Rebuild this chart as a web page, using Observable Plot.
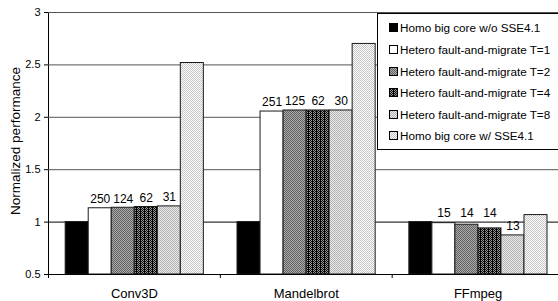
<!DOCTYPE html>
<html>
<head>
<meta charset="utf-8">
<script src="https://cdn.jsdelivr.net/npm/d3@7"></script>
<script src="https://cdn.jsdelivr.net/npm/@observablehq/plot@0.6"></script>
<style>
  html, body { margin: 0; padding: 0; background: #fff; overflow: hidden; }
  #wrap { position: relative; width: 558px; height: 301px; overflow: hidden; font-family: "Liberation Sans", Arial, Helvetica, sans-serif; }
  #legend { position: absolute; left: 377px; top: 13px; width: 190px; height: 137px; box-sizing: border-box;
            border: 1px solid #000; background: #fff; padding-top: 3.2px; font-size: 11.7px; color: #000; }
  .item { height: 21.6px; display: flex; align-items: center; padding-left: 11px; white-space: nowrap; }
  .item svg { margin-right: 2px; flex: none; }
</style>
</head>
<body>
<svg width="0" height="0" style="position:absolute">
  <defs>
    <pattern id="p2" patternUnits="userSpaceOnUse" width="2" height="2">
      <rect width="2" height="2" fill="#acacac"/>
      <rect x="0" y="0" width="1" height="1" fill="#606060"/>
      <rect x="1" y="1" width="1" height="1" fill="#606060"/>
    </pattern>
    <pattern id="p4" patternUnits="userSpaceOnUse" width="4" height="2">
      <rect width="4" height="2" fill="#9a9a9a"/>
      <rect x="0" y="0" width="1" height="2" fill="#000"/>
      <rect x="2" y="0" width="1" height="1" fill="#000"/>
      <rect x="1" y="1" width="1" height="1" fill="#111"/>
      <rect x="3" y="1" width="1" height="1" fill="#111"/>
    </pattern>
    <pattern id="p8" patternUnits="userSpaceOnUse" width="2" height="2">
      <rect width="2" height="2" fill="#e8e8e8"/>
      <rect x="0" y="0" width="1" height="1" fill="#b4b4b4"/>
      <rect x="1" y="1" width="1" height="1" fill="#b4b4b4"/>
    </pattern>
    <pattern id="pS" patternUnits="userSpaceOnUse" width="2" height="2">
      <rect width="2" height="2" fill="#ffffff"/>
      <rect x="0" y="0" width="1" height="1" fill="#c4c4c4"/>
      <rect x="1" y="1" width="1" height="1" fill="#c4c4c4"/>
    </pattern>
  </defs>
</svg>
<div id="wrap"></div>
<script>
const categories = ["Conv3D", "Mandelbrot", "FFmpeg"];
const seriesNames = [
  "Homo big core w/o SSE4.1",
  "Hetero fault-and-migrate T=1",
  "Hetero fault-and-migrate T=2",
  "Hetero fault-and-migrate T=4",
  "Hetero fault-and-migrate T=8",
  "Homo big core w/ SSE4.1"
];
const homoNoSSE = [1.0, 1.0, 1.0];
const heteroT1 = [1.132, 2.055, 0.99];
const heteroT2 = [1.137, 2.065, 0.975];
const heteroT4 = [1.144, 2.065, 0.94];
const heteroT8 = [1.15, 2.065, 0.873];
const homoSSE = [2.518, 2.70, 1.067];
const labelsT1 = [250, 251, 15];
const labelsT2 = [124, 125, 14];
const labelsT4 = [62, 62, 14];
const labelsT8 = [31, 30, 13];
const yTicks = [0.5, 1, 1.5, 2, 2.5, 3];
const yTitle = "Normalized performance";
const fills = ["#000000", "#ffffff", "url(#p2)", "url(#p4)", "url(#p8)", "url(#pS)"];

const seriesValues = [homoNoSSE, heteroT1, heteroT2, heteroT4, heteroT8, homoSSE];
const seriesLabels = [null, labelsT1, labelsT2, labelsT4, labelsT8, null];

const rows = [];
categories.forEach((cat, ci) => seriesNames.forEach((series, si) => rows.push({
  cat, ci, si, series,
  value: seriesValues[si][ci],
  label: seriesLabels[si] ? seriesLabels[si][ci] : null
})));

const W = 558, H = 301, mL = 48, mR = -5.5, mT = 12, mB = 27;
const groupPad = 0.1, barW = 0.134;
const bx1 = d => d.ci + groupPad + d.si * barW;
const bx2 = d => d.ci + groupPad + (d.si + 1) * barW;
const bxm = d => d.ci + groupPad + (d.si + 0.5) * barW;
// labels lifted above the baseline bar when the bar sits just under it (avoids the gridline)
const labelY = d => (d.value >= 0.92 && d.value < homoNoSSE[d.ci]) ? homoNoSSE[d.ci] : d.value;
const font = "'Liberation Sans', Arial, Helvetica, sans-serif";

const chart = Plot.plot({
  width: W, height: H,
  marginLeft: mL, marginRight: mR, marginTop: mT, marginBottom: mB,
  style: { fontFamily: font, fontSize: "11px", color: "#000", background: "transparent" },
  x: { domain: [0, 3], ticks: [0, 1, 2, 3], tickFormat: () => "", tickSize: 4, label: null },
  y: { domain: [0.5, 3], ticks: yTicks, tickFormat: d => String(d), tickSize: 4, tickPadding: 4, line: true, label: null },
  color: { domain: seriesNames, range: fills },
  marks: [
    Plot.ruleY(yTicks.filter(t => t > 1), { stroke: "#555" }),
    Plot.ruleY([1], { stroke: "#000" }),
    Plot.rect(rows, { x1: bx1, x2: bx2, y1: 0.5, y2: "value", fill: "series", stroke: "#1a1a1a", strokeWidth: 1 }),
    Plot.ruleY([0.5], { stroke: "#000" }),
    Plot.text(rows.filter(d => d.label != null), { x: bxm, y: labelY, text: "label", dy: -9, fontSize: 12, fontFamily: font, fill: "#000" }),
    Plot.text(categories, { x: (d, i) => i + 0.5, text: d => d, frameAnchor: "bottom", dy: 23.5, fontSize: 13, fontFamily: font, fill: "#000" }),
    Plot.text([yTitle], { frameAnchor: "middle", textAnchor: "middle", rotate: -90,
      dx: 15 - (mL + W - mR) / 2, dy: -2.5, fontSize: 13.5, fontFamily: font, fill: "#000" })
  ]
});

const wrap = document.getElementById("wrap");
wrap.appendChild(chart);

const legend = document.createElement("div");
legend.id = "legend";
seriesNames.forEach((name, i) => {
  const item = document.createElement("div");
  item.className = "item";
  item.innerHTML = `<svg width="9" height="9"><rect x="0.5" y="0.5" width="8" height="8" fill="${fills[i]}" stroke="#000"/></svg>`;
  const span = document.createElement("span");
  span.textContent = name;
  item.appendChild(span);
  legend.appendChild(item);
});
wrap.appendChild(legend);
</script>
</body>
</html>
